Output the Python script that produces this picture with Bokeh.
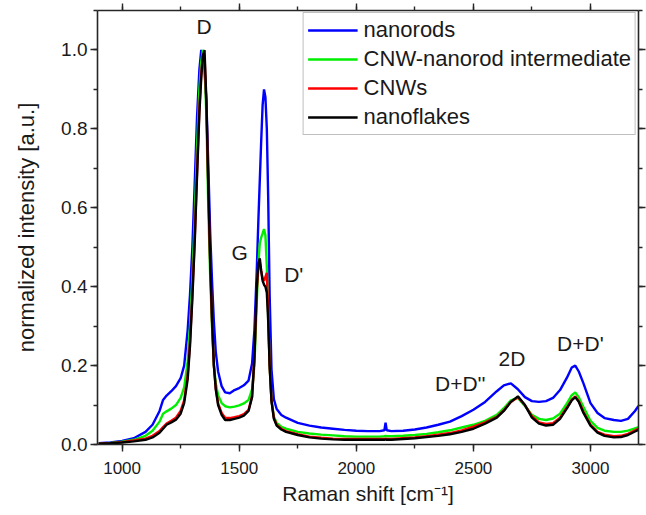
from bokeh.plotting import figure
from bokeh.models import (Range1d, LinearAxis, SingleIntervalTicker, NumeralTickFormatter,
                          Legend, LegendItem, ColumnDataSource)
from bokeh.core.properties import value
from bokeh.embed import file_html
from bokeh.resources import INLINE

# ---------------- data ----------------
raman_shift = [
    900, 950, 1000, 1050, 1100, 1130, 1160, 1175, 1190, 1210,
    1230, 1250, 1265, 1280, 1290, 1300, 1310, 1320, 1330, 1338,
    1345, 1352, 1360, 1368, 1376, 1384, 1392, 1400, 1410, 1425,
    1440, 1460, 1480, 1500, 1520, 1540, 1555, 1565, 1575, 1582,
    1588, 1594, 1600, 1606, 1612, 1618, 1624, 1630, 1638, 1648,
    1660, 1680, 1700, 1750, 1800, 1850, 1900, 1950, 2000, 2050,
    2100, 2120, 2125, 2130, 2150, 2200, 2250, 2300, 2350, 2400,
    2450, 2500, 2550, 2600, 2630, 2660, 2690, 2720, 2750, 2780,
    2810, 2840, 2870, 2900, 2920, 2935, 2950, 2970, 3000, 3030,
    3060, 3100, 3130, 3160, 3190, 3205,
]

nanorods = [
    0.003, 0.005, 0.009, 0.016, 0.032, 0.050, 0.085, 0.113, 0.124, 0.135,
    0.148, 0.168, 0.200, 0.290, 0.380, 0.500, 0.660, 0.830, 0.950, 1.000,
    0.985, 0.950, 0.870, 0.710, 0.540, 0.415, 0.310, 0.235, 0.185, 0.148,
    0.132, 0.130, 0.138, 0.143, 0.150, 0.162, 0.205, 0.290, 0.440, 0.570,
    0.670, 0.770, 0.860, 0.900, 0.880, 0.800, 0.620, 0.380, 0.190, 0.115,
    0.090, 0.075, 0.068, 0.055, 0.048, 0.043, 0.040, 0.037, 0.035, 0.034,
    0.034, 0.036, 0.055, 0.036, 0.034, 0.035, 0.038, 0.043, 0.050, 0.058,
    0.072, 0.088, 0.108, 0.135, 0.150, 0.155, 0.140, 0.120, 0.110, 0.108,
    0.110, 0.118, 0.138, 0.170, 0.195, 0.200, 0.185, 0.155, 0.105, 0.080,
    0.067, 0.062, 0.060, 0.065, 0.085, 0.098,
]

cnw_nanorod = [
    0.002, 0.004, 0.007, 0.012, 0.022, 0.035, 0.058, 0.078, 0.084, 0.091,
    0.100, 0.118, 0.145, 0.210, 0.300, 0.420, 0.570, 0.750, 0.900, 0.970,
    1.000, 0.960, 0.830, 0.600, 0.430, 0.300, 0.200, 0.155, 0.125, 0.105,
    0.097, 0.094, 0.096, 0.099, 0.104, 0.113, 0.140, 0.200, 0.360, 0.460,
    0.510, 0.525, 0.535, 0.546, 0.530, 0.450, 0.330, 0.200, 0.110, 0.070,
    0.055, 0.045, 0.040, 0.032, 0.028, 0.025, 0.023, 0.021, 0.020, 0.020,
    0.020, 0.021, 0.022, 0.021, 0.021, 0.022, 0.024, 0.027, 0.031, 0.036,
    0.043, 0.050, 0.060, 0.075, 0.092, 0.112, 0.118, 0.098, 0.075, 0.065,
    0.062, 0.066, 0.078, 0.105, 0.125, 0.132, 0.120, 0.095, 0.060, 0.042,
    0.035, 0.032, 0.032, 0.035, 0.041, 0.044,
]

cnws = [
    0.002, 0.003, 0.006, 0.010, 0.015, 0.022, 0.034, 0.044, 0.053, 0.060,
    0.068, 0.085, 0.112, 0.175, 0.260, 0.380, 0.520, 0.690, 0.850, 0.940,
    0.990, 0.985, 0.860, 0.650, 0.460, 0.310, 0.200, 0.142, 0.104, 0.080,
    0.068, 0.067, 0.069, 0.072, 0.077, 0.088, 0.122, 0.220, 0.390, 0.452,
    0.462, 0.440, 0.420, 0.415, 0.425, 0.435, 0.330, 0.200, 0.112, 0.068,
    0.050, 0.040, 0.034, 0.026, 0.020, 0.017, 0.015, 0.014, 0.014, 0.014,
    0.014, 0.014, 0.015, 0.014, 0.014, 0.016, 0.018, 0.021, 0.025, 0.029,
    0.036, 0.045, 0.056, 0.070, 0.087, 0.108, 0.120, 0.100, 0.072, 0.056,
    0.052, 0.054, 0.068, 0.095, 0.114, 0.122, 0.110, 0.083, 0.050, 0.032,
    0.025, 0.021, 0.022, 0.027, 0.036, 0.040,
]

nanoflakes = [
    0.002, 0.003, 0.005, 0.008, 0.012, 0.018, 0.030, 0.040, 0.050, 0.056,
    0.063, 0.078, 0.105, 0.165, 0.250, 0.370, 0.510, 0.680, 0.840, 0.930,
    0.985, 1.000, 0.870, 0.660, 0.470, 0.320, 0.200, 0.140, 0.100, 0.075,
    0.062, 0.062, 0.065, 0.068, 0.073, 0.085, 0.120, 0.220, 0.400, 0.460,
    0.472, 0.440, 0.415, 0.405, 0.400, 0.385, 0.310, 0.200, 0.110, 0.065,
    0.048, 0.038, 0.032, 0.024, 0.018, 0.015, 0.013, 0.012, 0.012, 0.012,
    0.012, 0.012, 0.013, 0.012, 0.012, 0.014, 0.016, 0.019, 0.022, 0.026,
    0.032, 0.040, 0.053, 0.068, 0.085, 0.108, 0.122, 0.100, 0.068, 0.053,
    0.048, 0.050, 0.065, 0.092, 0.112, 0.120, 0.108, 0.080, 0.048, 0.030,
    0.022, 0.018, 0.019, 0.024, 0.033, 0.037,
]

series_names = ["nanorods", "CNW-nanorod intermediate", "CNWs", "nanoflakes"]
series_colors = ["#0000ff", "#00ee00", "#ff0000", "#000000"]

peak_labels = ["D", "G", "D'", "D+D''", "2D", "D+D'"]
peak_label_x = [1350, 1502, 1733, 2444, 2665, 2957]
peak_label_y = [1.059, 0.487, 0.432, 0.154, 0.217, 0.255]

# ---------------- figure ----------------
FONT = "Liberation Sans"
TEXT_COL = "#1a1a1a"
AXIS_COL = "#262626"

p = figure(width=646, height=515,
           x_range=Range1d(895, 3205), y_range=Range1d(0, 1.1),
           output_backend="svg", toolbar_location=None,
           min_border_left=97, min_border_right=8, min_border_top=10, min_border_bottom=71,
           x_axis_label="Raman shift [cm\u207b\u00b9]",
           y_axis_label="normalized intensity [a.u.]")
p.outline_line_color = None
p.xgrid.visible = False
p.ygrid.visible = False
p.background_fill_color = "white"
p.border_fill_color = "white"

xt = SingleIntervalTicker(interval=500, num_minor_ticks=2)
yt = SingleIntervalTicker(interval=0.2, num_minor_ticks=2)

def style_axis(ax, ticker):
    ax.ticker = ticker
    ax.axis_line_color = AXIS_COL
    ax.axis_line_width = 1.6
    ax.major_tick_line_color = AXIS_COL
    ax.minor_tick_line_color = AXIS_COL
    ax.major_tick_line_width = 1.4
    ax.minor_tick_line_width = 1.4
    ax.major_tick_in = 0
    ax.minor_tick_in = 0
    ax.major_tick_out = 7
    ax.minor_tick_out = 4
    ax.major_label_text_font = FONT
    ax.major_label_text_font_size = "17px"
    ax.major_label_text_color = TEXT_COL
    ax.axis_label_text_font = FONT
    ax.axis_label_text_font_style = "normal"
    ax.axis_label_text_font_size = "21px"
    ax.axis_label_text_color = TEXT_COL

def mirror_axis(ax):
    # tick marks only, no labels drawn
    ax.major_label_text_font_size = "1px"
    ax.major_label_text_color = None
    ax.major_label_standoff = 0

style_axis(p.xaxis[0], xt)
style_axis(p.yaxis[0], yt)
p.xaxis[0].major_label_standoff = 10
p.xaxis[0].axis_label_standoff = 5
p.yaxis[0].major_label_text_font_size = "19px"
p.yaxis[0].major_label_standoff = 3
p.yaxis[0].formatter = NumeralTickFormatter(format="0.0")
p.yaxis[0].axis_label_text_font_size = "22px"
p.yaxis[0].axis_label_standoff = 19

top_axis = LinearAxis()
style_axis(top_axis, xt)
mirror_axis(top_axis)
p.add_layout(top_axis, "above")

right_axis = LinearAxis()
style_axis(right_axis, yt)
mirror_axis(right_axis)
p.add_layout(right_axis, "right")

items = []
for name, col, ys in zip(series_names, series_colors, [nanorods, cnw_nanorod, cnws, nanoflakes]):
    src = ColumnDataSource(dict(x=raman_shift, y=ys))
    r = p.line("x", "y", source=src, line_color=col, line_width=2.4)
    items.append(LegendItem(label=name, renderers=[r]))

p.text(x=peak_label_x, y=peak_label_y, text=peak_labels,
       text_font=value(FONT), text_font_size="21px", text_color=TEXT_COL,
       text_align="center", text_baseline="middle")

legend = Legend(items=items, location="top_right", margin=2, padding=4,
                glyph_width=50, glyph_height=24, label_height=24, spacing=3,
                label_standoff=6, label_text_font=FONT, label_text_font_size="22px",
                label_text_color=TEXT_COL, border_line_color="#808080",
                border_line_width=1.2, background_fill_alpha=1.0)
p.add_layout(legend, "center")

open("out.html", "w").write(file_html(p, INLINE))
